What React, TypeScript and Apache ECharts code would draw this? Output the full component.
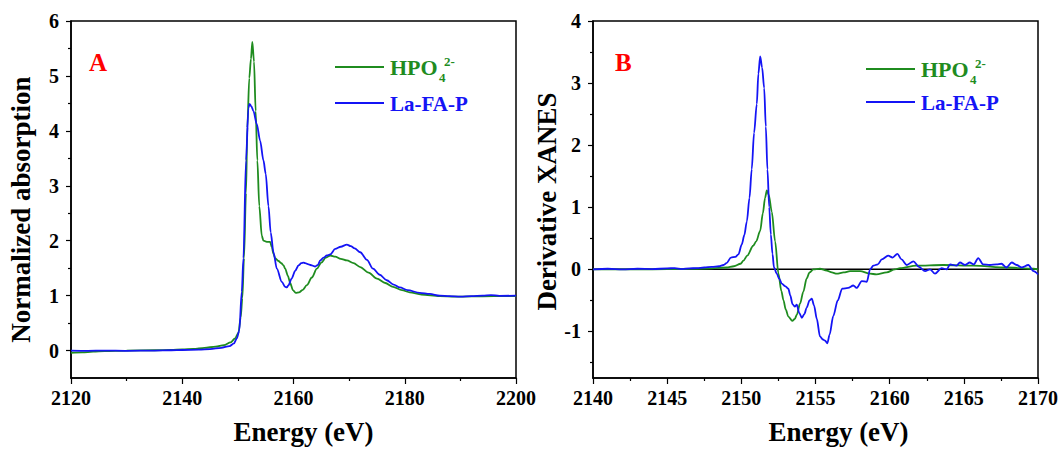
import React, { useEffect, useRef } from 'react';
import * as echarts from 'echarts';

const FONT = "'Liberation Serif', 'Times New Roman', serif";
const GREEN = '#1f8c1f';
const BLUE = '#1414f5';

// Panel A: normalized absorption
const aEnergyHPO = [2120, 2122, 2124, 2126, 2130, 2135, 2138, 2140, 2142, 2144, 2146, 2147.5, 2148.7, 2149.5, 2150.1, 2150.5, 2150.8, 2151.1, 2151.46, 2151.7, 2152.05, 2152.35, 2152.6, 2152.9, 2153.2, 2153.5, 2153.85, 2154.3, 2154.6, 2155.2, 2155.8, 2156.1, 2156.4, 2156.7, 2157.3, 2157.8, 2158.2, 2158.5, 2159.0, 2159.4, 2159.9, 2160.4, 2161.0, 2161.6, 2162.4, 2163.3, 2164.2, 2165.0, 2165.8, 2166.6, 2167.5, 2168.5, 2169.6, 2170.8, 2172.0, 2173.5, 2175.0, 2176.5, 2177.9, 2179.5, 2180.9, 2183, 2186.3, 2189, 2192, 2196, 2200];
const aHPO = [-0.04, -0.035, -0.02, -0.01, 0.0, 0.005, 0.01, 0.02, 0.03, 0.05, 0.07, 0.1, 0.15, 0.22, 0.32, 0.6, 0.95, 1.68, 2.87, 4.06, 4.96, 5.31, 5.62, 5.26, 4.36, 3.46, 2.63, 2.09, 2.0, 1.98, 1.98, 1.88, 1.76, 1.68, 1.63, 1.59, 1.55, 1.49, 1.36, 1.23, 1.1, 1.05, 1.06, 1.1, 1.19, 1.33, 1.49, 1.6, 1.69, 1.73, 1.71, 1.67, 1.64, 1.59, 1.52, 1.42, 1.31, 1.23, 1.16, 1.1, 1.06, 1.02, 0.99, 0.98, 0.985, 0.99, 0.99];

const aEnergyLa = [2120, 2123, 2126, 2130, 2135, 2138, 2140, 2143, 2145, 2147, 2148.5, 2149.3, 2149.8, 2150.25, 2150.7, 2151.0, 2151.46, 2151.9, 2152.1, 2152.4, 2152.8, 2153.4, 2154.0, 2154.6, 2155.0, 2155.5, 2155.9, 2156.4, 2157.0, 2157.9, 2158.5, 2158.8, 2159.1, 2159.66, 2160.3, 2160.9, 2161.4, 2161.8, 2162.1, 2162.7, 2163.3, 2163.9, 2164.4, 2164.8, 2165.4, 2166.0, 2166.6, 2167.5, 2168.5, 2169.6, 2170.3, 2171.0, 2172.0, 2173.2, 2174.3, 2175.5, 2176.75, 2178.0, 2179.1, 2180.5, 2182.7, 2184.5, 2186.3, 2188, 2190, 2192, 2194, 2195.5, 2197, 2200];
const aLa = [0.0, -0.005, 0.0, -0.005, 0.0, 0.005, 0.01, 0.015, 0.025, 0.05, 0.08, 0.13, 0.22, 0.36, 1.07, 1.68, 3.46, 4.42, 4.49, 4.45, 4.36, 4.12, 3.82, 3.46, 3.22, 2.63, 2.15, 1.79, 1.49, 1.25, 1.16, 1.15, 1.19, 1.31, 1.45, 1.55, 1.59, 1.6, 1.59, 1.57, 1.55, 1.53, 1.56, 1.64, 1.69, 1.73, 1.75, 1.85, 1.89, 1.93, 1.9, 1.86, 1.79, 1.65, 1.49, 1.38, 1.28, 1.2, 1.15, 1.1, 1.05, 1.03, 1.0, 0.99, 0.98, 0.99, 1.0, 1.01, 0.995, 1.0];

// Panel B: derivative XANES
const bEnergyHPO = [2140, 2144, 2146, 2147, 2148, 2149, 2149.5, 2149.95, 2150.14, 2150.4, 2150.8, 2151.0, 2151.27, 2151.45, 2151.6, 2151.72, 2151.85, 2152.05, 2152.28, 2152.5, 2152.7, 2152.84, 2153.0, 2153.17, 2153.44, 2153.6, 2153.74, 2153.96, 2154.18, 2154.4, 2154.6, 2154.86, 2155.3, 2155.76, 2156.1, 2156.43, 2156.9, 2157.33, 2158.0, 2158.68, 2159.1, 2159.8, 2160.35, 2160.7, 2161.8, 2163.6, 2165.64, 2167.9, 2169.7, 2170];
const bHPO = [0, 0, 0.005, 0.01, 0.015, 0.03, 0.05, 0.09, 0.14, 0.22, 0.38, 0.45, 0.62, 0.9, 1.15, 1.27, 1.2, 0.93, 0.45, -0.07, -0.35, -0.5, -0.65, -0.76, -0.83, -0.8, -0.73, -0.55, -0.36, -0.15, -0.05, 0.0, 0.01, -0.02, -0.05, -0.07, -0.05, -0.03, -0.03, -0.07, -0.08, -0.05, 0.0, 0.02, 0.06, 0.07, 0.06, 0.03, 0.01, 0.0];

const bEnergyLa = [2140, 2141, 2142, 2143, 2144, 2145, 2145.5, 2146, 2146.5, 2147, 2147.5, 2148, 2148.5, 2148.8, 2149.0, 2149.3, 2149.6, 2149.8, 2150.03, 2150.2, 2150.37, 2150.55, 2150.7, 2150.86, 2151.04, 2151.15, 2151.27, 2151.4, 2151.54, 2151.65, 2151.76, 2151.88, 2151.99, 2152.1, 2152.2, 2152.39, 2152.55, 2152.73, 2152.95, 2153.17, 2153.3, 2153.45, 2153.6, 2153.74, 2153.9, 2154.08, 2154.25, 2154.4, 2154.6, 2154.75, 2154.9, 2155.09, 2155.3, 2155.5, 2155.65, 2155.8, 2155.95, 2156.2, 2156.5, 2156.8, 2157.2, 2157.55, 2157.77, 2158.12, 2158.46, 2158.68, 2158.9, 2159.2, 2159.47, 2159.9, 2160.2, 2160.52, 2160.8, 2161.15, 2161.6, 2161.97, 2162.39, 2162.72, 2163.06, 2163.5, 2163.85, 2164.07, 2164.5, 2164.74, 2165.08, 2165.4, 2165.67, 2165.97, 2166.3, 2166.75, 2167.2, 2167.54, 2167.87, 2168.23, 2168.56, 2168.9, 2169.35, 2169.7, 2170];
const bLa = [0, 0.01, 0.0, 0.01, 0.005, 0.015, 0.02, 0.005, 0.015, 0.02, 0.03, 0.04, 0.05, 0.07, 0.1, 0.19, 0.2, 0.24, 0.4, 0.55, 0.77, 1.15, 1.61, 2.2, 2.66, 3.15, 3.43, 3.25, 2.92, 2.3, 1.61, 1.0, 0.56, 0.25, 0.03, -0.07, -0.15, -0.23, -0.27, -0.31, -0.42, -0.56, -0.6, -0.57, -0.7, -0.78, -0.72, -0.62, -0.5, -0.47, -0.58, -0.8, -1.08, -1.13, -1.15, -1.19, -1.05, -0.75, -0.5, -0.31, -0.3, -0.26, -0.3, -0.19, -0.2, 0.0, 0.06, 0.08, 0.16, 0.22, 0.19, 0.25, 0.16, 0.07, 0.13, 0.04, -0.03, 0.0, -0.07, 0.02, 0.0, 0.08, 0.06, 0.11, 0.07, 0.11, 0.08, 0.18, 0.08, 0.07, 0.08, 0.09, 0.03, 0.11, 0.07, 0.03, 0.07, -0.03, -0.08];

const zeroLineB = [[2140, 0], [2170, 0]];

const aYLabels = [0, 1, 2, 3, 4, 5, 6];
const aYMinor = [0.5, 1.5, 2.5, 3.5, 4.5, 5.5];
const bYLabels = [-1, 0, 1, 2, 3, 4];
const bYMinor = [-1.5, -0.5, 0.5, 1.5, 2.5, 3.5];

const zip = (xs: number[], ys: number[]) => xs.map((x, i) => [x, ys[i]]);

const labelStyle = { fontFamily: FONT, fontWeight: 'bold' as const, fontSize: 20, color: '#000' };
const nameStyle = { fontFamily: FONT, fontWeight: 'bold' as const, fontSize: 27, color: '#000' };
const axisLine = { show: true, onZero: false, lineStyle: { color: '#000', width: 1.5 } };

function xAxisCfg(gridIndex: number, min: number, max: number, interval: number, padLeft: number) {
  return {
    type: 'value', gridIndex, min, max, interval,
    axisLine,
    axisTick: { show: true, length: 6, lineStyle: { color: '#000', width: 1.2 } },
    minorTick: { show: true, splitNumber: 2, length: 3, lineStyle: { color: '#000', width: 1.2 } },
    splitLine: { show: false },
    axisLabel: { ...labelStyle, margin: 10, formatter: (v: number) => String(v) },
    name: 'Energy (eV)', nameLocation: 'middle', nameGap: 40,
    nameTextStyle: { ...nameStyle, padding: [0, 0, 0, padLeft] },
  };
}

function yAxisCfg(gridIndex: number, min: number, max: number, labels: number[], name: string, gap: number, padEnd: number) {
  return {
    type: 'value', gridIndex, min, max, position: 'left',
    axisLine,
    axisTick: { show: true, length: 5, customValues: labels, lineStyle: { color: '#000', width: 1.2 } },
    axisLabel: { ...labelStyle, margin: 12, customValues: labels, formatter: (v: number) => String(v) },
    splitLine: { show: false },
    name, nameLocation: 'middle', nameGap: gap, nameRotate: 90,
    nameTextStyle: { ...nameStyle, padding: [0, padEnd, 0, 0] },
  };
}

function yMinorCfg(gridIndex: number, min: number, max: number, minor: number[]) {
  return {
    type: 'value', gridIndex, min, max, position: 'left',
    axisLine: { show: false },
    axisTick: { show: true, length: 3, customValues: minor, lineStyle: { color: '#000', width: 1.2 } },
    axisLabel: { show: false },
    splitLine: { show: false },
  };
}

function legendGraphics(x0: number, y1: number, y2: number) {
  return [
    { type: 'line', shape: { x1: x0, y1, x2: x0 + 49, y2: y1 }, style: { stroke: GREEN, lineWidth: 2 } },
    { type: 'text', x: x0 + 55, y: y1 + 0.5, style: { text: 'HPO', font: `bold 22px ${FONT}`, fill: GREEN, verticalAlign: 'middle' } },
    { type: 'text', x: x0 + 104, y: y1 + 10.5, style: { text: '4', font: `bold 13px ${FONT}`, fill: GREEN, verticalAlign: 'middle' } },
    { type: 'text', x: x0 + 109, y: y1 - 5.5, style: { text: '2-', font: `bold 13px ${FONT}`, fill: GREEN, verticalAlign: 'middle' } },
    { type: 'line', shape: { x1: x0, y1: y2, x2: x0 + 49, y2 }, style: { stroke: BLUE, lineWidth: 2 } },
    { type: 'text', x: x0 + 55, y: y2 + 1, style: { text: 'La-FA-P', font: `bold 21px ${FONT}`, fill: BLUE, verticalAlign: 'middle' } },
  ];
}

export default function App() {
  const ref = useRef<HTMLDivElement>(null);
  useEffect(() => {
    const chart = echarts.init(ref.current!, null, { renderer: 'svg' });
    const lineSeries = (name: string, xi: number, yi: number, data: number[][], color: string) => ({
      name, type: 'line', xAxisIndex: xi, yAxisIndex: yi, data,
      showSymbol: false, symbol: 'none', smooth: 0.3, smoothMonotone: 'x',
      lineStyle: { color, width: 1.8 }, itemStyle: { color }, clip: true,
    });
    chart.setOption({
      animation: false,
      backgroundColor: '#fff',
      grid: [
        { left: 71, top: 21, width: 445, height: 363.5, show: true, borderColor: '#000', borderWidth: 1.5, backgroundColor: 'transparent' },
        { left: 593, top: 21, width: 445, height: 363.5, show: true, borderColor: '#000', borderWidth: 1.5, backgroundColor: 'transparent' },
      ],
      xAxis: [
        xAxisCfg(0, 2120, 2200, 20, 20),
        xAxisCfg(1, 2140, 2170, 5, 46),
      ],
      yAxis: [
        yAxisCfg(0, -0.5, 6, aYLabels, 'Normalized absorption', 37, 20),
        yMinorCfg(0, -0.5, 6, aYMinor),
        yAxisCfg(1, -1.75, 4, bYLabels, 'Derivative XANES', 33, 4),
        yMinorCfg(1, -1.75, 4, bYMinor),
      ],
      series: [
        lineSeries('HPO4 2- (A)', 0, 0, zip(aEnergyHPO, aHPO), GREEN),
        lineSeries('La-FA-P (A)', 0, 0, zip(aEnergyLa, aLa), BLUE),
        { name: 'zero', type: 'line', xAxisIndex: 1, yAxisIndex: 2, data: zeroLineB, showSymbol: false, symbol: 'none', lineStyle: { color: '#000', width: 1.5 } },
        lineSeries('HPO4 2- (B)', 1, 2, zip(bEnergyHPO, bHPO), GREEN),
        lineSeries('La-FA-P (B)', 1, 2, zip(bEnergyLa, bLa), BLUE),
      ],
      graphic: [
        { type: 'text', x: 89, y: 62, style: { text: 'A', font: `bold 25px ${FONT}`, fill: '#ff0000', verticalAlign: 'middle' } },
        { type: 'text', x: 615, y: 62, style: { text: 'B', font: `bold 25px ${FONT}`, fill: '#ff0000', verticalAlign: 'middle' } },
        ...legendGraphics(335, 67, 103),
        ...legendGraphics(866, 69, 102),
      ],
    });
    return () => chart.dispose();
  }, []);
  return <div ref={ref} style={{ position: 'fixed', left: 0, top: 0, width: 1062, height: 450 }} />;
}
